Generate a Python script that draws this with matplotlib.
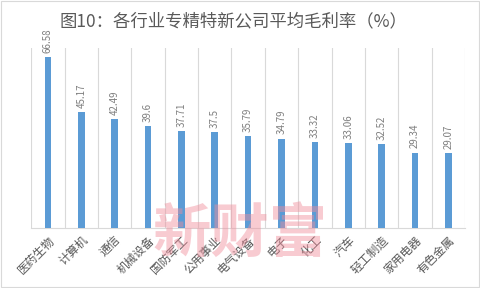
import matplotlib
matplotlib.use("Agg")
import matplotlib.pyplot as plt
from matplotlib.patches import Rectangle

plt.rcParams['font.family'] = ['Noto Sans CJK SC', 'DejaVu Sans']

categories = ['医药生物', '计算机', '通信', '机械设备', '国防军工', '公用事业', '电气设备',
              '电子', '化工', '汽车', '轻工制造', '家用电器', '有色金属']
values = [66.58, 45.17, 42.49, 39.6, 37.71, 37.5, 35.79, 34.79, 33.32, 33.06, 32.52, 29.34, 29.07]
value_labels = ['66.58', '45.17', '42.49', '39.6', '37.71', '37.5', '35.79', '34.79',
                '33.32', '33.06', '32.52', '29.34', '29.07']
title = '图10：各行业专精特新公司平均毛利率（%）'

fig = plt.figure(figsize=(4.8, 2.88), dpi=100)
fig.patches.append(Rectangle((0.002, 0.003), 0.995, 0.994, transform=fig.transFigure,
                             fill=False, edgecolor='#d9d9d9', linewidth=0.8))
ax = fig.add_axes([0.065, 0.208, 0.904, 0.625])
x = list(range(len(categories)))
ax.bar(x, values, width=0.2, color='#5B9BD5', zorder=3)
ax.set_xlim(-0.5, len(categories) - 0.5)
ax.set_ylim(0, 70)
for i in range(len(categories) + 1):
    ax.axvline(i - 0.5, color='#d9d9d9', linewidth=0.8, zorder=1)
for s in ['top', 'right', 'left']:
    ax.spines[s].set_visible(False)
ax.spines['bottom'].set_color('#d9d9d9')
ax.set_yticks([])
ax.set_xticks(x)
ax.set_xticklabels(categories, rotation=45, ha='right', rotation_mode='anchor',
                   fontsize=8.5, color='#595959')
ax.tick_params(axis='x', length=0, pad=4)
for xi, v, lab in zip(x, values, value_labels):
    ax.annotate(lab, (xi, v), xytext=(0, 3), textcoords='offset points',
                rotation=90, ha='center', va='bottom', fontsize=7, color='#7f7f7f')
fig.text(0.487, 0.925, title, ha='center', va='center', fontsize=12.5, color='#595959')
fig.text(0.5, 0.185, '新财富', ha='center', va='center', fontsize=42, color='#f08c9a',
         alpha=0.45, fontweight='bold', zorder=10)
fig.savefig('out.png', dpi=100)
